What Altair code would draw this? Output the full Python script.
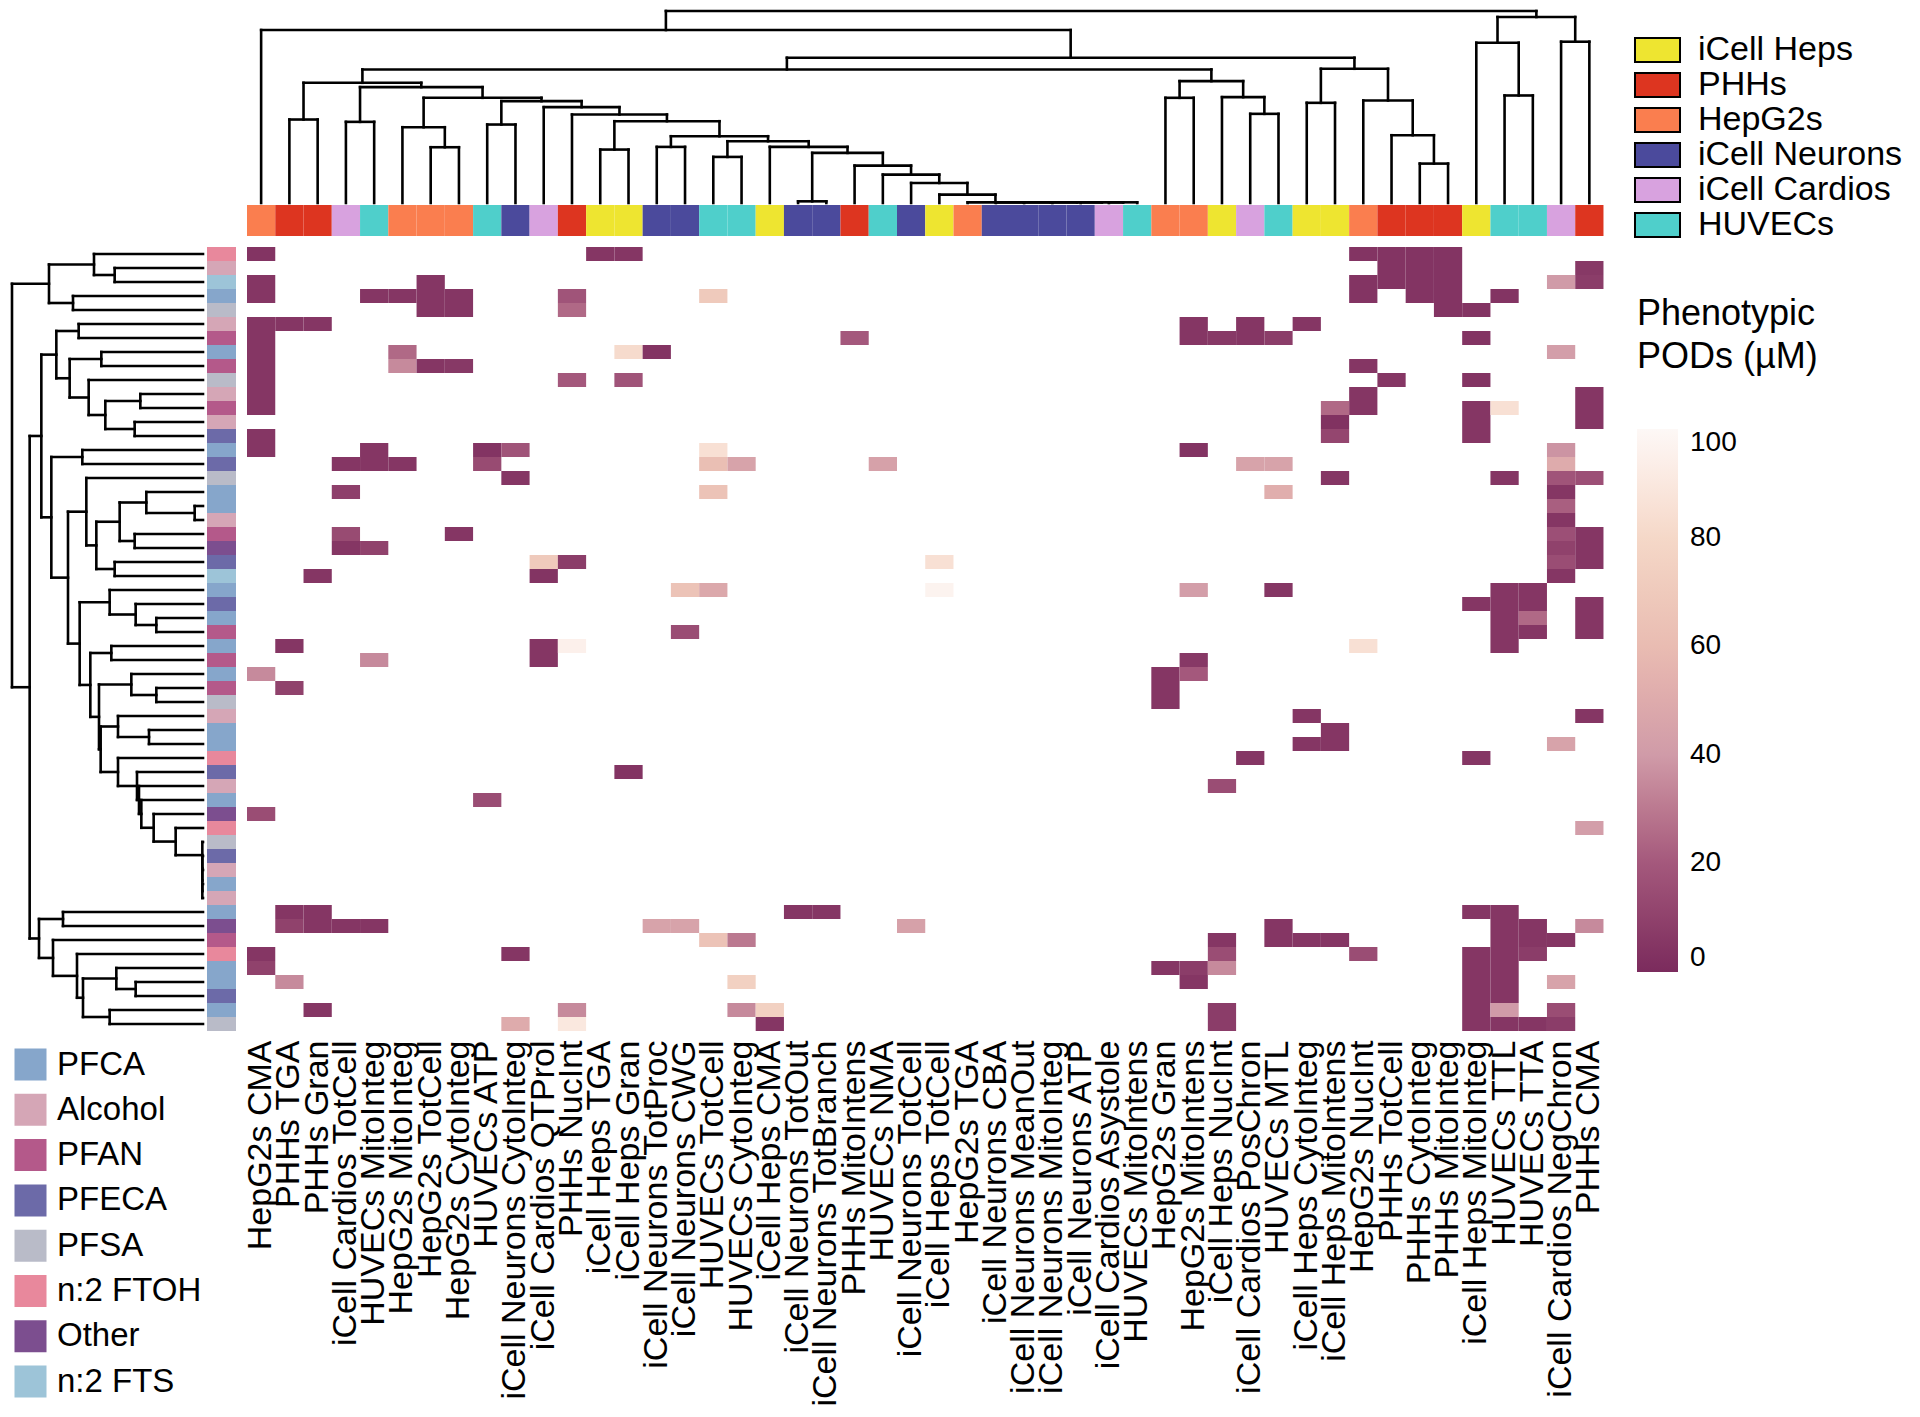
import altair as alt
import pandas as pd

# ---------------- data ----------------
col_names = [
    "HepG2s CMA", "PHHs TGA", "PHHs Gran", "iCell Cardios TotCell", "HUVECs MitoInteg",
    "HepG2s MitoInteg", "HepG2s TotCell", "HepG2s CytoInteg", "HUVECs ATP",
    "iCell Neurons CytoInteg", "iCell Cardios QTProl", "PHHs NucInt", "iCell Heps TGA",
    "iCell Heps Gran", "iCell Neurons TotProc", "iCell Neurons CWG", "HUVECs TotCell",
    "HUVECs CytoInteg", "iCell Heps CMA", "iCell Neurons TotOut", "iCell Neurons TotBranch",
    "PHHs MitoIntens", "HUVECs NMA", "iCell Neurons TotCell", "iCell Heps TotCell",
    "HepG2s TGA", "iCell Neurons CBA", "iCell Neurons MeanOut", "iCell Neurons MitoInteg",
    "iCell Neurons ATP", "iCell Cardios Asystole", "HUVECs MitoIntens", "HepG2s Gran",
    "HepG2s MitoIntens", "iCell Heps NucInt", "iCell Cardios PosChron", "HUVECs MTL",
    "iCell Heps CytoInteg", "iCell Heps MitoIntens", "HepG2s NucInt", "PHHs TotCell",
    "PHHs CytoInteg", "PHHs MitoInteg", "iCell Heps MitoInteg", "HUVECs TTL", "HUVECs TTA",
    "iCell Cardios NegChron", "PHHs CMA",
]
col_types = [
    "HepG2s", "PHHs", "PHHs", "iCell Cardios", "HUVECs", "HepG2s", "HepG2s", "HepG2s",
    "HUVECs", "iCell Neurons", "iCell Cardios", "PHHs", "iCell Heps", "iCell Heps",
    "iCell Neurons", "iCell Neurons", "HUVECs", "HUVECs", "iCell Heps", "iCell Neurons",
    "iCell Neurons", "PHHs", "HUVECs", "iCell Neurons", "iCell Heps", "HepG2s",
    "iCell Neurons", "iCell Neurons", "iCell Neurons", "iCell Neurons", "iCell Cardios",
    "HUVECs", "HepG2s", "HepG2s", "iCell Heps", "iCell Cardios", "HUVECs", "iCell Heps",
    "iCell Heps", "HepG2s", "PHHs", "PHHs", "PHHs", "iCell Heps", "HUVECs", "HUVECs",
    "iCell Cardios", "PHHs",
]
type_names = ["iCell Heps", "PHHs", "HepG2s", "iCell Neurons", "iCell Cardios", "HUVECs"]
type_colors = ["#eee530", "#dd3520", "#fa7e4f", "#4b4a9c", "#d8a2df", "#4fcfcb"]

row_classes = [
    "n:2 FTOH", "Alcohol", "n:2 FTS", "PFCA", "PFSA", "Alcohol", "PFAN", "PFCA", "PFAN",
    "PFSA", "Alcohol", "PFAN", "Alcohol", "PFECA", "PFCA", "PFECA", "PFSA", "PFCA", "PFCA",
    "Alcohol", "PFAN", "Other", "PFECA", "n:2 FTS", "PFCA", "PFECA", "PFCA", "PFAN", "PFCA",
    "PFAN", "PFCA", "PFAN", "PFSA", "Alcohol", "PFCA", "PFCA", "n:2 FTOH", "PFECA",
    "Alcohol", "PFCA", "Other", "n:2 FTOH", "PFSA", "PFECA", "Alcohol", "PFCA", "Alcohol",
    "PFCA", "Other", "PFAN", "n:2 FTOH", "PFCA", "PFCA", "PFECA", "PFCA", "PFSA",
]
class_names = ["PFCA", "Alcohol", "PFAN", "PFECA", "PFSA", "n:2 FTOH", "Other", "n:2 FTS"]
class_colors = ["#86a6cb", "#d5a6b6", "#b4598a", "#6c6aa8", "#b9bbc8", "#e8889c", "#7c4e8f", "#9dc4d8"]

# (row, column, POD in uM)
pod_cells = [
    (0, 0, 4), (0, 12, 5), (0, 13, 5), (0, 39, 4), (0, 40, 4), (0, 41, 4), (0, 42, 4),
    (1, 40, 4), (1, 41, 4), (1, 42, 4), (1, 47, 6),
    (2, 0, 5), (2, 6, 5), (2, 39, 4), (2, 40, 4), (2, 41, 4), (2, 42, 4), (2, 46, 40), (2, 47, 8),
    (3, 0, 5), (3, 4, 5), (3, 5, 5), (3, 6, 5), (3, 7, 5), (3, 11, 18), (3, 16, 70), (3, 39, 4),
    (3, 41, 4), (3, 42, 4), (3, 44, 4),
    (4, 6, 5), (4, 7, 5), (4, 11, 25), (4, 42, 4), (4, 43, 4),
    (5, 0, 5), (5, 1, 5), (5, 2, 5), (5, 33, 5), (5, 35, 5), (5, 37, 5),
    (6, 0, 5), (6, 21, 20), (6, 33, 5), (6, 34, 6), (6, 35, 5), (6, 36, 8), (6, 43, 4),
    (7, 0, 5), (7, 5, 25), (7, 13, 82), (7, 14, 4), (7, 46, 42),
    (8, 0, 5), (8, 5, 35), (8, 6, 5), (8, 7, 6), (8, 39, 5),
    (9, 0, 5), (9, 11, 20), (9, 13, 18), (9, 40, 5), (9, 43, 4),
    (10, 0, 5), (10, 39, 5), (10, 47, 5),
    (11, 0, 5), (11, 38, 25), (11, 39, 5), (11, 43, 5), (11, 44, 85), (11, 47, 5),
    (12, 38, 3), (12, 43, 5), (12, 47, 5),
    (13, 0, 5), (13, 38, 12), (13, 43, 5),
    (14, 0, 5), (14, 4, 5), (14, 8, 4), (14, 9, 18), (14, 16, 85), (14, 33, 4), (14, 46, 38),
    (15, 3, 5), (15, 4, 5), (15, 5, 5), (15, 8, 14), (15, 16, 62), (15, 17, 45), (15, 22, 44),
    (15, 35, 45), (15, 36, 45), (15, 46, 50),
    (16, 9, 5), (16, 38, 5), (16, 44, 5), (16, 46, 18), (16, 47, 16),
    (17, 3, 9), (17, 16, 65), (17, 36, 52), (17, 46, 5),
    (18, 46, 22),
    (19, 46, 5),
    (20, 3, 14), (20, 7, 5), (20, 46, 16), (20, 47, 5),
    (21, 3, 5), (21, 4, 10), (21, 46, 10), (21, 47, 5),
    (22, 10, 70), (22, 11, 8), (22, 24, 85), (22, 46, 15), (22, 47, 5),
    (23, 2, 5), (23, 10, 4), (23, 46, 5),
    (24, 15, 65), (24, 16, 48), (24, 24, 97), (24, 33, 42), (24, 36, 5), (24, 44, 5), (24, 45, 5),
    (25, 43, 5), (25, 44, 5), (25, 45, 5), (25, 47, 5),
    (26, 44, 5), (26, 45, 25), (26, 47, 5),
    (27, 15, 15), (27, 44, 5), (27, 45, 5), (27, 47, 5),
    (28, 1, 5), (28, 10, 5), (28, 11, 95), (28, 39, 85), (28, 44, 5),
    (29, 4, 35), (29, 10, 5), (29, 33, 6),
    (30, 0, 35), (30, 32, 5), (30, 33, 20),
    (31, 1, 10), (31, 32, 5),
    (32, 32, 5),
    (33, 37, 5), (33, 47, 5),
    (34, 38, 5),
    (35, 37, 5), (35, 38, 5), (35, 46, 45),
    (36, 35, 5), (36, 43, 5),
    (37, 13, 4),
    (38, 34, 15),
    (39, 8, 15),
    (40, 0, 15),
    (41, 47, 42),
    (47, 1, 5), (47, 2, 5), (47, 19, 5), (47, 20, 5), (47, 43, 5), (47, 44, 5),
    (48, 1, 10), (48, 2, 5), (48, 3, 5), (48, 4, 5), (48, 14, 45), (48, 15, 45), (48, 23, 44),
    (48, 36, 5), (48, 44, 5), (48, 45, 5), (48, 47, 35),
    (49, 16, 65), (49, 17, 30), (49, 34, 5), (49, 36, 5), (49, 37, 5), (49, 38, 5), (49, 44, 5),
    (49, 45, 5), (49, 46, 5),
    (50, 0, 5), (50, 9, 5), (50, 34, 15), (50, 39, 15), (50, 43, 5), (50, 44, 5), (50, 45, 8),
    (51, 0, 10), (51, 32, 5), (51, 33, 8), (51, 34, 35), (51, 43, 5), (51, 44, 5),
    (52, 1, 35), (52, 17, 75), (52, 33, 5), (52, 43, 5), (52, 44, 5), (52, 46, 45),
    (53, 43, 5), (53, 44, 5),
    (54, 2, 5), (54, 11, 35), (54, 17, 35), (54, 18, 75), (54, 34, 8), (54, 43, 5), (54, 44, 40),
    (54, 46, 15),
    (55, 9, 50), (55, 11, 90), (55, 18, 5), (55, 34, 8), (55, 43, 5), (55, 44, 5), (55, 45, 5),
    (55, 46, 8),
]

# hierarchical clustering merges: (child a, child b, height); leaves are 0..n-1,
# merge k creates node n+k
row_merges = [
    (1, 2, 265), (0, 56, 327), (3, 4, 390), (57, 58, 462), (5, 6, 373), (7, 8, 305),
    (10, 11, 188), (12, 13, 205), (62, 63, 293), (9, 64, 343), (61, 65, 400), (60, 66, 440),
    (14, 15, 362), (18, 19, 25), (17, 69, 170), (20, 21, 205), (70, 71, 250), (22, 23, 265),
    (72, 73, 320), (16, 74, 350), (26, 27, 140), (25, 76, 202), (24, 77, 280), (28, 29, 275),
    (31, 32, 140), (30, 80, 215), (34, 35, 162), (33, 82, 255), (45, 46, 2), (44, 84, 2),
    (43, 85, 2), (42, 86, 2), (41, 87, 82), (40, 88, 148), (39, 89, 185), (38, 90, 192),
    (37, 91, 198), (36, 92, 255), (83, 93, 307), (81, 94, 312), (79, 95, 338), (78, 96, 370),
    (75, 97, 405), (68, 98, 455), (67, 99, 485), (47, 48, 420), (52, 53, 202), (51, 102, 260),
    (54, 55, 280), (103, 104, 360), (50, 105, 378), (49, 106, 450), (101, 107, 492),
    (100, 108, 520), (59, 109, 573),
]
col_merges = [
    (1, 2, 250), (3, 4, 243), (6, 7, 167), (5, 50, 227), (8, 9, 235), (12, 13, 160),
    (14, 15, 168), (16, 17, 138), (19, 20, 5), (30, 31, 2), (29, 57, 2), (28, 58, 2),
    (27, 59, 2), (26, 60, 2), (25, 61, 2), (24, 62, 25), (23, 63, 60), (22, 64, 85),
    (21, 65, 112), (56, 66, 150), (18, 67, 168), (55, 68, 185), (54, 69, 200), (53, 70, 245),
    (11, 71, 265), (10, 72, 287), (52, 73, 305), (51, 74, 315), (49, 75, 347), (48, 76, 360),
    (32, 33, 315), (35, 36, 267), (34, 79, 317), (78, 80, 365), (77, 81, 400), (37, 38, 300),
    (41, 42, 118), (40, 84, 203), (39, 85, 307), (83, 86, 402), (82, 87, 435), (0, 88, 518),
    (44, 45, 322), (43, 90, 480), (46, 47, 483), (91, 92, 557), (89, 93, 575),
]

# ---------------- tables ----------------
n_rows, n_cols = len(row_classes), len(col_names)


def dendro_segments(merges, n):
    pos = {i: i + 0.5 for i in range(n)}
    hgt = {i: 0.0 for i in range(n)}
    segs = []
    for k, (a, b, h) in enumerate(merges):
        for ch in (a, b):
            segs.append({"p1": pos[ch], "p2": pos[ch], "h1": hgt[ch], "h2": h})
        segs.append({"p1": pos[a], "p2": pos[b], "h1": h, "h2": h})
        pos[n + k] = (pos[a] + pos[b]) / 2
        hgt[n + k] = h
    return pd.DataFrame(segs)


row_seg = dendro_segments(row_merges, n_rows)
col_seg = dendro_segments(col_merges, n_cols)

heat_df = pd.DataFrame(
    [{"row": r, "name": col_names[c], "pod": v} for r, c, v in pod_cells]
)
col_df = pd.DataFrame({"name": col_names, "type": col_types, "k": "a"})
row_df = pd.DataFrame({"row": list(range(n_rows)), "cls": row_classes, "k": "a"})

# ---------------- layout sizes ----------------
CELL_W, CELL_H = 28.26, 14.0
HM_W, HM_H = CELL_W * n_cols, CELL_H * n_rows
RD_W, RA_W = 191, 29          # row dendrogram / row annotation widths
CD_H, CA_H = 192, 31          # column dendrogram / column annotation heights
GAP_SMALL, GAP_HM = 4, 10.7
FONT = "Liberation Sans"

ROW_MAX, COL_MAX = 573, 575
rd_view_w = RD_W + GAP_SMALL
ra_view_w = RA_W + GAP_HM
cd_view_h = CD_H + 2
ca_view_h = CA_H + GAP_HM

row_scale = alt.Scale(domain=list(range(n_rows)), paddingInner=0, paddingOuter=0)
col_scale = alt.Scale(domain=col_names, paddingInner=0, paddingOuter=0)

row_dendro = alt.Chart(row_seg).mark_rule(
    color="black", strokeWidth=2.6, strokeCap="square"
).encode(
    x=alt.X("h1:Q", axis=None, scale=alt.Scale(
        domain=[-ROW_MAX / RD_W * GAP_SMALL, ROW_MAX], reverse=True, nice=False, zero=False)),
    x2="h2",
    y=alt.Y("p1:Q", axis=None, scale=alt.Scale(domain=[0, n_rows], reverse=True, nice=False, zero=False)),
    y2="p2",
).properties(width=rd_view_w, height=HM_H)

row_annot = alt.Chart(row_df).mark_rect().encode(
    x=alt.X("k:N", axis=None, scale=alt.Scale(
        paddingInner=0, paddingOuter=(ra_view_w / RA_W - 1) / 2, align=0)),
    y=alt.Y("row:O", scale=row_scale, axis=None),
    color=alt.Color(
        "cls:N",
        scale=alt.Scale(domain=class_names, range=class_colors),
        legend=alt.Legend(
            title=None, orient="none", legendX=-193, legendY=801,
            symbolType="square", symbolSize=1024, symbolStrokeWidth=0,
            labelFontSize=33, labelFont=FONT, labelColor="black", labelOffset=10,
            rowPadding=11.3, labelLimit=400, padding=0,
        ),
    ),
).properties(width=ra_view_w, height=HM_H)

heat = alt.Chart(heat_df).mark_rect().encode(
    x=alt.X(
        "name:N", scale=col_scale,
        axis=alt.Axis(
            title=None, orient="bottom", labelAngle=-90, labelFontSize=34, labelFont=FONT,
            labelColor="black", labelPadding=9, ticks=False, domain=False, labelLimit=600,
        ),
    ),
    y=alt.Y("row:O", scale=row_scale, axis=None),
    color=alt.Color(
        "pod:Q",
        scale=alt.Scale(
            domain=[0, 20, 40, 60, 80, 100],
            range=["#7b2b5d", "#a4587c", "#d09ba8", "#e9bcb2", "#f5d8c8", "#fdf8f6"],
        ),
        legend=alt.Legend(
            title=["Phenotypic", "PODs (µM)"], orient="none", legendX=1390, legendY=50,
            direction="vertical", gradientLength=543, gradientThickness=41,
            values=[0, 20, 40, 60, 80, 100], labelFontSize=28, labelFont=FONT,
            labelColor="black", labelOffset=12,
            titleFontSize=36, titleFont=FONT,
            titleFontWeight="normal", titleColor="black", titleLineHeight=43,
            titlePadding=53, titleLimit=400, gradientStrokeWidth=0, padding=0,
        ),
    ),
).properties(width=HM_W, height=HM_H)

col_dendro = alt.Chart(col_seg).mark_rule(
    color="black", strokeWidth=2.6, strokeCap="square"
).encode(
    x=alt.X("p1:Q", axis=None, scale=alt.Scale(domain=[0, n_cols], nice=False, zero=False)),
    x2="p2",
    y=alt.Y("h1:Q", axis=None, scale=alt.Scale(
        domain=[-COL_MAX / CD_H * 2, COL_MAX], nice=False, zero=False)),
    y2="h2",
).properties(width=HM_W, height=cd_view_h)

col_annot = alt.Chart(col_df).mark_rect().encode(
    x=alt.X("name:N", scale=col_scale, axis=None),
    y=alt.Y("k:N", axis=None, scale=alt.Scale(
        paddingInner=0, paddingOuter=(ca_view_h / CA_H - 1) / 2, align=0)),
    color=alt.Color(
        "type:N",
        scale=alt.Scale(domain=type_names, range=type_colors),
        legend=alt.Legend(
            title=None, orient="none", legendX=1393, legendY=-172.5,
            symbolType="M-1.364,-0.727H1.364V0.727H-1.364Z", symbolSize=1089,
            symbolStrokeColor="black", symbolStrokeWidth=2,
            labelFontSize=34, labelFont=FONT, labelColor="black", labelOffset=23,
            rowPadding=0, labelLimit=500, padding=0,
        ),
    ),
).properties(width=HM_W, height=ca_view_h)


def spacer():
    return alt.Chart(pd.DataFrame({"k": ["a"]})).mark_point(opacity=0).encode(
        x=alt.value(0), y=alt.value(0)
    ).properties(width=1, height=1)


chart = alt.concat(
    spacer(), spacer(), col_dendro,
    spacer(), spacer(), col_annot,
    row_dendro, row_annot, heat,
    columns=3, spacing=0, bounds="flush",
).resolve_scale(
    color="independent"
).resolve_legend(color="independent").properties(
    padding={"left": 1, "top": 0, "right": 0, "bottom": 0}
).configure(font=FONT).configure_view(stroke=None)

chart.save("out.html", embed_options={"renderer": "svg", "actions": False})
